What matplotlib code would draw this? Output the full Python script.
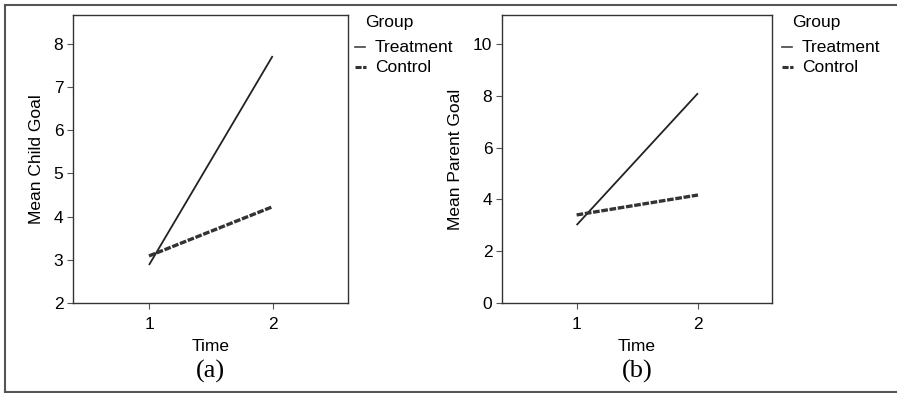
import matplotlib.pyplot as plt
from matplotlib.lines import Line2D

plt.rcParams['font.family'] = ['Liberation Sans', 'DejaVu Sans']

time = [1, 2]
child_treat = [2.88, 7.72]
child_ctrl = [3.09, 4.23]
parent_treat = [3.01, 8.10]
parent_ctrl = [3.40, 4.17]

W, H = 897, 393
fig = plt.figure(figsize=(W / 100, H / 100), dpi=100)

def px(x0, y0, x1, y1):
    # pixel box -> figure fraction
    return [x0 / W, 1 - y1 / H, (x1 - x0) / W, (y1 - y0) / H]

ax1 = fig.add_axes(px(73, 15, 348, 303))
ax2 = fig.add_axes(px(502, 15, 772, 303))

panels = [
    (ax1, child_treat, child_ctrl, (2, 8.67), [2, 3, 4, 5, 6, 7, 8], 'Mean Child Goal', '(a)', 355),
    (ax2, parent_treat, parent_ctrl, (0, 11.12), [0, 2, 4, 6, 8, 10], 'Mean Parent Goal', '(b)', 782),
]

for ax, tr, ct, ylim, yt, ylab, tag, lx in panels:
    ax.plot(time, tr, color='#222222', lw=1.3, solid_capstyle='butt')
    ax.plot(time, ct, color='#333333', lw=2.4, dashes=(2.0, 0.5), dash_capstyle='butt')
    ax.set_xlim(0.385, 2.61)
    ax.set_ylim(*ylim)
    ax.set_xticks(time)
    ax.set_yticks(yt)
    ax.tick_params(labelsize=12.5, color='#555555', length=4, width=0.8, pad=3)
    ax.tick_params(axis='x', pad=6)
    for s in ax.spines.values():
        s.set_color('#333333')
        s.set_linewidth(1.0)
    ax.set_ylabel(ylab, fontsize=12.5, labelpad=7)
    ax.set_xlabel('Time', fontsize=12.5, labelpad=5)
    # caption below
    cx = (ax.get_position().x0 + ax.get_position().x1) / 2
    fig.text(cx, 1 - 371 / H, tag, ha='center', va='center', fontsize=19,
             family=['Liberation Serif', 'DejaVu Serif'])
    # legend text
    fig.text((lx + 10) / W, 1 - 23 / H, 'Group', fontsize=12.5, va='center')
    fig.text((lx + 20) / W, 1 - 47 / H, 'Treatment', fontsize=12.5, va='center')
    fig.text((lx + 20) / W, 1 - 67 / H, 'Control', fontsize=12.5, va='center')
    fig.add_artist(Line2D([lx / W, (lx + 10) / W], [1 - 47 / H] * 2, color='#444444', lw=1.2))
    fig.add_artist(Line2D([lx / W, (lx + 11) / W], [1 - 67 / H] * 2, color='#333333', lw=2.2,
                          dashes=(2.0, 0.5)))

# outer frame (top, left, bottom)
fc = '#555555'
fig.add_artist(Line2D([4.5 / W, 1], [1 - 5 / H] * 2, color=fc, lw=1.5))
fig.add_artist(Line2D([4.5 / W] * 2, [1 - 5 / H, 1 - 391.5 / H], color=fc, lw=1.5))
fig.add_artist(Line2D([4.5 / W, 1], [1 - 391.5 / H] * 2, color=fc, lw=1.5))

fig.savefig('out.png', dpi=100)
